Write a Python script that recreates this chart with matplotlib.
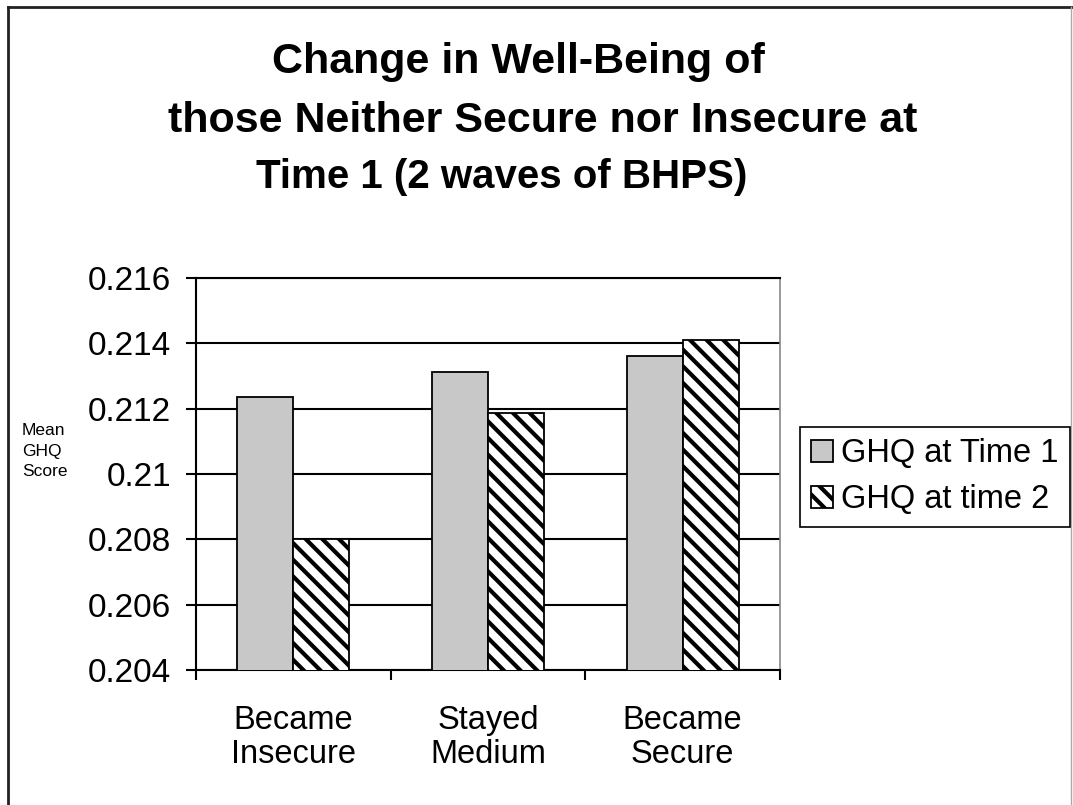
import numpy as np
import matplotlib
matplotlib.use("Agg")
import matplotlib.pyplot as plt
from matplotlib.lines import Line2D

plt.rcParams['font.family'] = ['Liberation Sans', 'DejaVu Sans']
plt.rcParams['hatch.linewidth'] = 3.0

# data
categories = ["Became\nInsecure", "Stayed\nMedium", "Became\nSecure"]
ghq_time1 = [0.21237, 0.21313, 0.21360]
ghq_time2 = [0.20800, 0.21188, 0.21410]
series_names = ["GHQ at Time 1", "GHQ at time 2"]
yticks = [0.204, 0.206, 0.208, 0.21, 0.212, 0.214, 0.216]
ytick_labels = ["0.204", "0.206", "0.208", "0.21", "0.212", "0.214", "0.216"]

W, H = 1073, 805
fig = plt.figure(figsize=(W / 100, H / 100), dpi=100)
fig.patch.set_facecolor("white")

# axes box in pixels: left 196, right 780, top 278, bottom 670
ax = fig.add_axes([196 / W, 1 - 670 / H, 584 / W, 392 / H])

x = np.arange(len(categories))
w = 0.287
b1 = ax.bar(x - w / 2, ghq_time1, w, color="#c8c8c8",
            edgecolor="black", linewidth=1.3, zorder=3, label=series_names[0])
b2 = ax.bar(x + w / 2, ghq_time2, w, color="white", hatch="\\\\",
            edgecolor="black", linewidth=1.3, zorder=3, label=series_names[1])

ax.set_ylim(0.204, 0.216)
ax.set_xlim(-0.5, 2.5)
ax.set_yticks(yticks)
ax.set_yticklabels(ytick_labels, fontsize=24)
ax.yaxis.grid(True, color="black", linewidth=1.5, zorder=0)
ax.set_axisbelow(True)

# tick marks between groups, labels at group centres
ax.set_xticks([-0.5, 0.5, 1.5, 2.5])
ax.set_xticklabels([])
ax.set_xticks(x, minor=True)
ax.set_xticklabels(categories, minor=True, fontsize=23.5, linespacing=1.12)
ax.tick_params(axis="x", which="minor", length=0, pad=25)
ax.tick_params(axis="x", which="major", length=7, width=1.5, direction="out")
ax.tick_params(axis="y", length=7, width=1.5, direction="out", pad=11)

for s in ["left", "bottom", "top"]:
    ax.spines[s].set_color("black")
    ax.spines[s].set_linewidth(1.5)
ax.spines["right"].set_color("#888888")
ax.spines["right"].set_linewidth(1.2)

# y axis label, as small left-aligned text
fig.text(22 / W, 1 - 451 / H, "Mean\nGHQ\nScore", fontsize=12.5,
         ha="left", va="center", linespacing=1.45)

# title lines
fig.text(518 / W, 1 - 62 / H, "Change in Well-Being of", fontsize=31,
         fontweight="bold", ha="center", va="center")
fig.text(543 / W, 1 - 121 / H, "those Neither Secure nor Insecure at",
         fontsize=31, fontweight="bold", ha="center", va="center")
fig.text(502 / W, 1 - 177 / H, "Time 1 (2 waves of BHPS)", fontsize=29,
         fontweight="bold", ha="center", va="center")

leg = fig.legend(handles=[b1, b2], labels=series_names, loc="upper left",
                 bbox_to_anchor=(800 / W, 1 - 427 / H), fontsize=23.5,
                 handlelength=0.65, handleheight=0.65, handletextpad=0.25,
                 borderpad=0.35, labelspacing=0.45, borderaxespad=0,
                 fancybox=False, framealpha=1, edgecolor="black")
leg.get_frame().set_linewidth(1.2)

# outer chart border
fig.add_artist(Line2D([8 / W, 8 / W], [0, 1 - 7 / H], color="#222222", lw=2))
fig.add_artist(Line2D([8 / W, 1], [1 - 7 / H, 1 - 7 / H], color="#222222", lw=2))
fig.add_artist(Line2D([1 - 2 / W, 1 - 2 / W], [0, 1 - 7 / H], color="#aaaaaa", lw=1))

fig.savefig("out.png", dpi=100, facecolor="white")
